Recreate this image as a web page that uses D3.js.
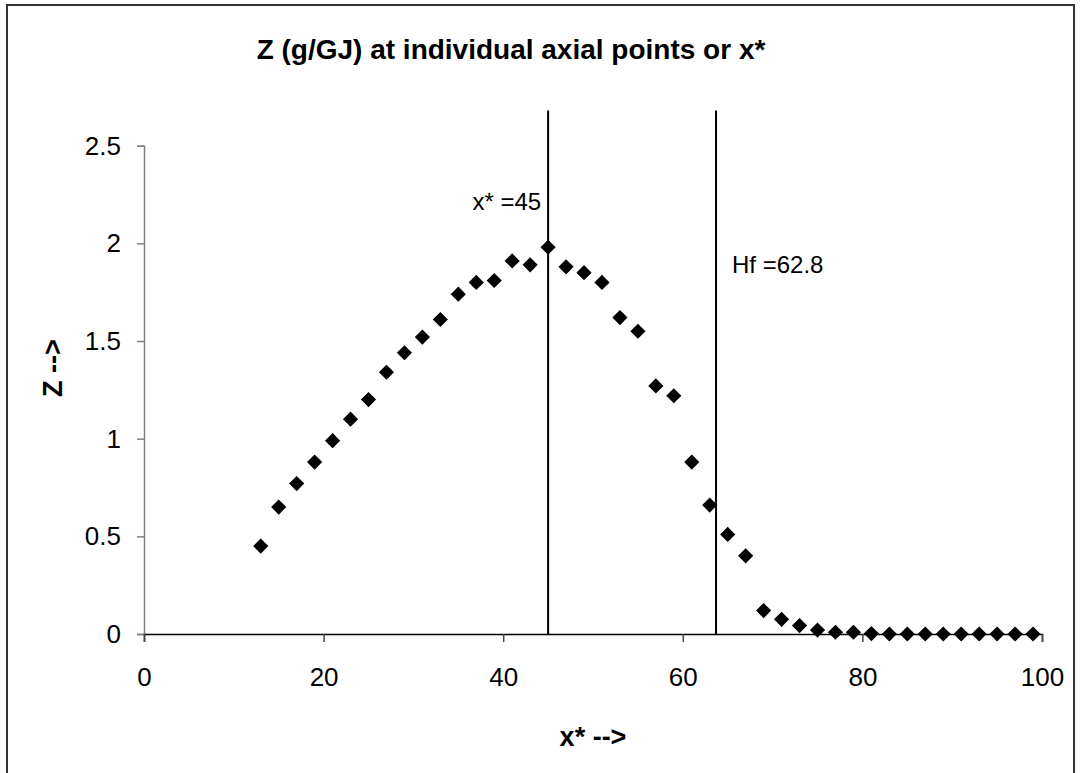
<!DOCTYPE html>
<html>
<head>
<meta charset="utf-8">
<script src="https://cdn.jsdelivr.net/npm/d3@7"></script>
<style>
  body { margin: 0; background: #fff; }
  svg { display: block; font-family: "Liberation Sans", Arial, sans-serif; }
</style>
</head>
<body>
<div id="chart"></div>
<script>
// x* positions of the axial points
var xValues = [13, 15, 17, 19, 21, 23, 25, 27, 29, 31, 33, 35, 37, 39, 41, 43, 45, 47, 49, 51,
  53, 55, 57, 59, 61, 63, 65, 67, 69, 71, 73, 75, 77, 79, 81, 83, 85, 87, 89, 91, 93, 95, 97, 99];

// Z (g/GJ)
var zValues = [0.45, 0.65, 0.77, 0.88, 0.99, 1.10, 1.20, 1.34, 1.44, 1.52, 1.61, 1.74, 1.80, 1.81,
  1.91, 1.89, 1.98, 1.88, 1.85, 1.80, 1.62, 1.55, 1.27, 1.22, 0.88, 0.66, 0.51, 0.40, 0.12, 0.075,
  0.043, 0.02, 0.009, 0.009, 0.002, 0, 0, 0, 0, 0, 0, 0, 0, 0];

var xTicks = [0, 20, 40, 60, 80, 100];
var yTicks = [0, 0.5, 1, 1.5, 2, 2.5];

// vertical marker lines
var refX = [45, 63.7];
var refLabels = ["x* =45", "Hf =62.8"];
var refTop = 2.68;

var width = 1082, height = 773;

var svg = d3.select("#chart")
  .append("svg")
  .attr("width", width)
  .attr("height", height);

// outer frame
svg.append("rect")
  .attr("x", 7)
  .attr("y", 5)
  .attr("width", 1067)
  .attr("height", 790)
  .attr("fill", "none")
  .attr("stroke", "#333")
  .attr("stroke-width", 2);

var x = d3.scaleLinear().domain([0, 100]).range([144, 1042]);
var y = d3.scaleLinear().domain([0, 2.5]).range([634, 145.7]);

// title
svg.append("text")
  .attr("x", 511)
  .attr("y", 59)
  .attr("text-anchor", "middle")
  .attr("font-size", "28px")
  .attr("font-weight", "bold")
  .text("Z (g/GJ) at individual axial points or x*");

// y axis
var yAxis = svg.append("g")
  .attr("transform", "translate(" + x(0) + ",0)")
  .call(d3.axisLeft(y).tickValues(yTicks).tickSize(7).tickPadding(16)
    .tickFormat(function (d) { return String(d); }));
yAxis.select(".domain").attr("stroke", "#808080").attr("stroke-width", 1.5);
yAxis.selectAll(".tick line").attr("stroke", "#808080").attr("stroke-width", 1.5);
yAxis.selectAll(".tick text")
  .attr("font-size", "26px")
  .attr("font-family", "Liberation Sans, Arial, sans-serif")
  .attr("fill", "#000");

// x axis
var xAxis = svg.append("g")
  .attr("transform", "translate(0," + y(0) + ")")
  .call(d3.axisBottom(x).tickValues(xTicks).tickSize(8).tickPadding(26)
    .tickFormat(function (d) { return String(d); }));
xAxis.select(".domain").attr("stroke", "#000").attr("stroke-width", 1.5);
xAxis.selectAll(".tick line").attr("stroke", "#444").attr("stroke-width", 1.5);
xAxis.selectAll(".tick text")
  .attr("font-size", "26px")
  .attr("font-family", "Liberation Sans, Arial, sans-serif")
  .attr("fill", "#000");

// axis titles
svg.append("text")
  .attr("x", 593)
  .attr("y", 746)
  .attr("text-anchor", "middle")
  .attr("font-size", "27px")
  .attr("font-weight", "bold")
  .text("x* -->");

svg.append("text")
  .attr("transform", "translate(62,368) rotate(-90)")
  .attr("text-anchor", "middle")
  .attr("font-size", "27px")
  .attr("font-weight", "bold")
  .text("Z -->");

// vertical reference lines
svg.selectAll(".ref")
  .data(refX)
  .enter()
  .append("line")
  .attr("class", "ref")
  .attr("x1", function (d) { return x(d); })
  .attr("x2", function (d) { return x(d); })
  .attr("y1", y(0))
  .attr("y2", y(refTop))
  .attr("stroke", "#000")
  .attr("stroke-width", 2);

// labels for the lines
svg.append("text")
  .attr("x", x(refX[0]) - 7)
  .attr("y", 210)
  .attr("text-anchor", "end")
  .attr("font-size", "24px")
  .text(refLabels[0]);

svg.append("text")
  .attr("x", x(refX[1]) + 16)
  .attr("y", 273)
  .attr("text-anchor", "start")
  .attr("font-size", "24px")
  .text(refLabels[1]);

// diamond markers
var points = xValues.map(function (d, i) { return { x: d, z: zValues[i] }; });
var diamond = d3.symbol().type(d3.symbolSquare).size(115);

svg.selectAll(".pt")
  .data(points)
  .enter()
  .append("path")
  .attr("class", "pt")
  .attr("d", diamond)
  .attr("transform", function (d) {
    return "translate(" + x(d.x) + "," + y(d.z) + ") rotate(45)";
  })
  .attr("fill", "#000");
</script>
</body>
</html>
